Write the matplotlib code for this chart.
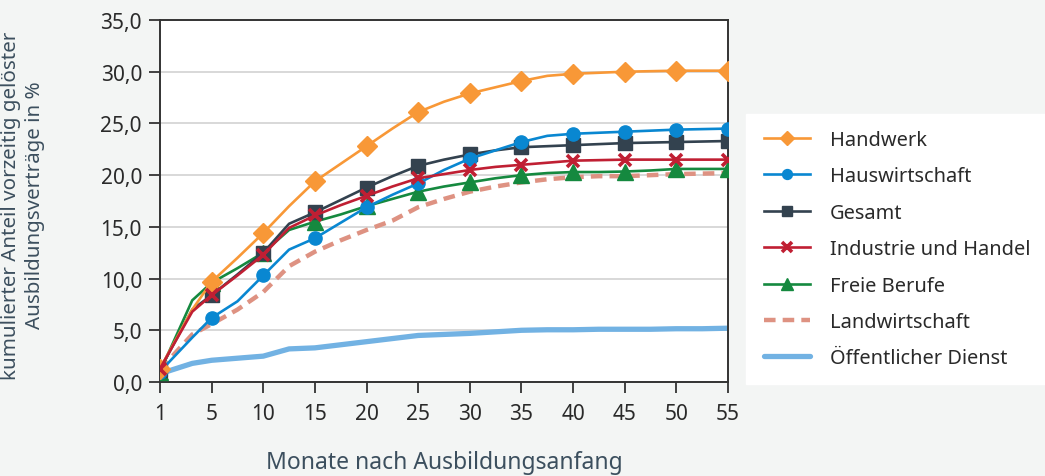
import numpy as np
import matplotlib
matplotlib.use('Agg')
import matplotlib.pyplot as plt
from matplotlib.patches import Rectangle
from matplotlib.ticker import FuncFormatter

plt.rcParams['font.family'] = ['Noto Sans', 'DejaVu Sans']

# Monate (Stuetzstellen); Markierungen nur an den beschrifteten Monaten
months = [1, 3.5, 5, 7.5, 10, 12.5, 15, 17.5, 20, 22.5, 25, 27.5, 30,
          32.5, 35, 37.5, 40, 42.5, 45, 47.5, 50, 52.5, 55]
tick_months = [1, 5, 10, 15, 20, 25, 30, 35, 40, 45, 50, 55]

handwerk = [1.3, 7.0, 9.7, 12.0, 14.4, 17.0, 19.4, 21.1, 22.8, 24.5, 26.1, 27.1, 27.9,
            28.5, 29.1, 29.6, 29.8, 29.9, 30.0, 30.05, 30.1, 30.1, 30.1]
hauswirtschaft = [1.0, 4.3, 6.2, 7.8, 10.3, 12.8, 13.9, 15.4, 16.9, 18.1, 19.2, 20.5, 21.6,
                  22.4, 23.2, 23.8, 24.0, 24.1, 24.2, 24.3, 24.4, 24.45, 24.5]
gesamt = [1.2, 7.0, 8.4, 10.4, 12.5, 15.3, 16.4, 17.6, 18.8, 19.9, 20.9, 21.5, 22.0,
          22.4, 22.7, 22.8, 22.9, 23.0, 23.1, 23.15, 23.2, 23.25, 23.3]
industrie = [1.3, 6.8, 8.4, 10.3, 12.3, 14.9, 16.1, 17.1, 18.0, 18.9, 19.7, 20.1, 20.5,
             20.8, 21.0, 21.2, 21.4, 21.45, 21.5, 21.5, 21.5, 21.5, 21.5]
freie = [1.0, 7.9, 9.6, 11.0, 12.5, 14.7, 15.5, 16.2, 17.0, 17.7, 18.4, 18.9, 19.3,
         19.7, 20.0, 20.2, 20.3, 20.3, 20.35, 20.45, 20.6, 20.6, 20.6]
landwirtschaft = [1.2, 4.6, 5.6, 7.0, 8.7, 11.2, 12.6, 13.7, 14.7, 15.6, 16.9, 17.7, 18.4,
                  18.9, 19.3, 19.6, 19.8, 19.9, 19.9, 20.0, 20.1, 20.15, 20.2]
oeffentlich = [0.8, 1.8, 2.1, 2.3, 2.5, 3.2, 3.3, 3.6, 3.9, 4.2, 4.5, 4.6, 4.7,
               4.85, 5.0, 5.05, 5.05, 5.1, 5.1, 5.1, 5.15, 5.15, 5.2]

bg = '#f3f5f4'
fig = plt.figure(figsize=(10.45, 4.77), dpi=100, facecolor=bg)
ax = fig.add_axes([160/1045, 1 - 383/477, 568/1045, 362/477])

# Achse: beschriftete Monate gleichabstaendig
x = np.interp(months, tick_months, np.arange(len(tick_months)))

lw = 1.9
l_oe, = ax.plot(x, oeffentlich, color='#72b2e3', lw=3.8, solid_capstyle='round', zorder=2)
l_la, = ax.plot(x, landwirtschaft, color='#de9282', lw=3.2, dashes=(2.6, 1.6), zorder=2)
l_fr, = ax.plot(x, freie, color='#15893f', lw=lw, marker='^', ms=11, markevery=2, zorder=3)
l_ge, = ax.plot(x, gesamt, color='#33424f', lw=lw, marker='s', ms=10, markevery=2, zorder=3)
l_hw, = ax.plot(x, hauswirtschaft, color='#0987d1', lw=lw, marker='o', ms=9.5, markevery=2, zorder=3)
l_ha, = ax.plot(x, handwerk, color='#f89837', lw=lw, marker='D', ms=10, markevery=2, zorder=3)
l_in, = ax.plot(x, industrie, color='#c01f33', lw=lw, marker='x', ms=9, mew=2.6, markevery=2, zorder=4)

ax.set_xlim(0, len(tick_months) - 1)
ax.set_ylim(0, 35)
ax.set_xticks(np.arange(len(tick_months)))
ax.set_xticklabels([str(m) for m in tick_months])
ax.set_yticks(np.arange(0, 36, 5))
ax.yaxis.set_major_formatter(FuncFormatter(lambda v, p: f'{v:.1f}'.replace('.', ',')))
ax.grid(axis='y', color='#d6d6d6', lw=1.3)
ax.set_axisbelow(True)
for s in ax.spines.values():
    s.set_color('#333333')
    s.set_linewidth(1.4)
ax.tick_params(length=8, width=1.3, color='#333333', labelsize=15, labelcolor='#2a2a2a', pad=5)
ax.tick_params(axis='x', pad=7)

ax.set_ylabel('kumulierter Anteil vorzeitig gelöster\nAusbildungsverträge in %',
              fontsize=14.8, color='#3c4f5e', linespacing=1.25)
ax.yaxis.set_label_coords(-0.203, 0.49)
ax.set_xlabel('Monate nach Ausbildungsanfang', fontsize=16.5, color='#3c4f5e', va='center')
ax.xaxis.set_label_coords(0.5, -0.221)

# weisser Kasten fuer die Legende
fig.patches.append(Rectangle((746/1045, 1 - 385/477), 300/1045, 270/477,
                             transform=fig.transFigure, color='white', zorder=0))
fig.legend([l_ha, l_hw, l_ge, l_in, l_fr, l_la, l_oe],
           ['Handwerk', 'Hauswirtschaft', 'Gesamt', 'Industrie und Handel',
            'Freie Berufe', 'Landwirtschaft', 'Öffentlicher Dienst'],
           loc='upper left', bbox_to_anchor=(746/1045, 1 - 113/477), frameon=False,
           fontsize=14.4, handlelength=2.3, labelspacing=0.82, handletextpad=1.0,
           markerscale=0.75, labelcolor='#2a2a2a')

fig.savefig('out.png', dpi=100, facecolor=bg)
